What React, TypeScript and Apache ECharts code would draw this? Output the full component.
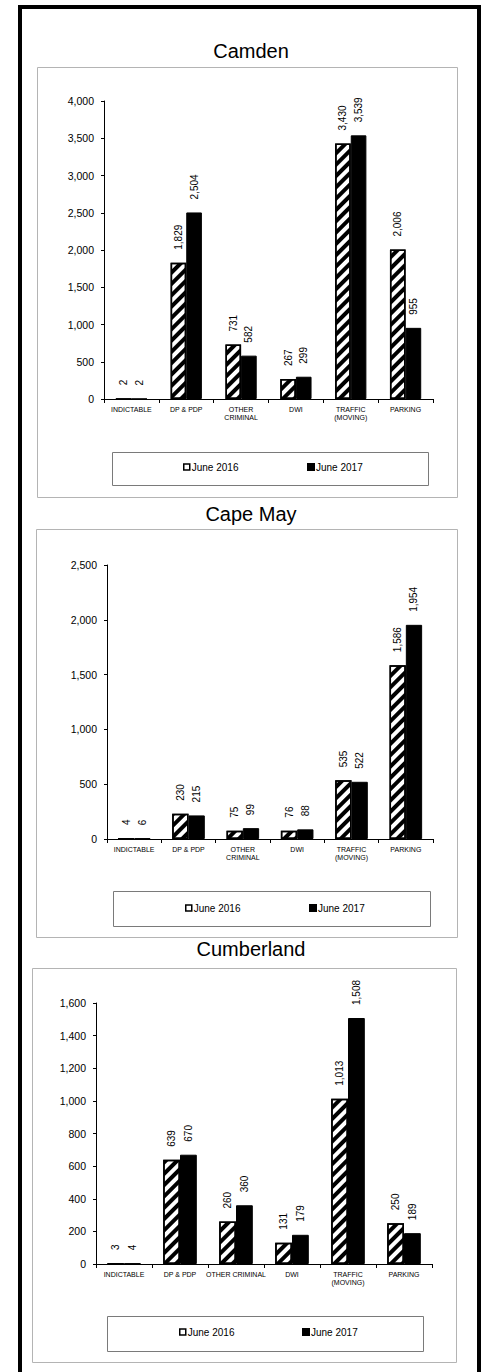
import React, { useEffect, useRef } from "react";
import * as echarts from "echarts";

const CATS_A = ["INDICTABLE", "DP & PDP", "OTHER\nCRIMINAL", "DWI", "TRAFFIC\n(MOVING)", "PARKING"];
const CATS_B = ["INDICTABLE", "DP & PDP", "OTHER CRIMINAL", "DWI", "TRAFFIC\n(MOVING)", "PARKING"];
const SERIES_NAMES = ["June 2016", "June 2017"];

const CAMDEN_2016 = [2, 1829, 731, 267, 3430, 2006];
const CAMDEN_2017 = [2, 2504, 582, 299, 3539, 955];
const CAPEMAY_2016 = [4, 230, 75, 76, 535, 1586];
const CAPEMAY_2017 = [6, 215, 99, 88, 522, 1954];
const CUMB_2016 = [3, 639, 260, 131, 1013, 250];
const CUMB_2017 = [4, 670, 360, 179, 1508, 189];

const TITLES = ["Camden", "Cape May", "Cumberland"];
const Y_MAX = [4000, 2500, 1600];
const Y_INTERVAL = [500, 500, 200];

const FONT = "'Liberation Sans', Arial, sans-serif";

const fmt = (v: number) => Number(v).toLocaleString("en-US");

export default function App() {
  const ref = useRef<HTMLDivElement>(null);
  useEffect(() => {
    if (!ref.current) return;
    const chart = echarts.init(ref.current, undefined, { renderer: "svg" });

    const grids = [
      { left: 104, top: 101, width: 329, height: 298 },
      { left: 107, top: 565, width: 326, height: 274 },
      { left: 96, top: 1003, width: 336, height: 261 },
    ];
    const cats = [CATS_A, CATS_A, CATS_B];
    const data = [
      [CAMDEN_2016, CAMDEN_2017],
      [CAPEMAY_2016, CAPEMAY_2017],
      [CUMB_2016, CUMB_2017],
    ];
    const titleTops = [41, 504, 939];
    const gaps = ["43%", "40%", "40%"];
    const legendPos = [
      { y: 468, x1: 183, x2: 307 },
      { y: 909, x1: 185, x2: 309 },
      { y: 1333, x1: 179, x2: 302 },
    ];

    const hatch = {
      symbol: "rect",
      symbolSize: 1,
      dashArrayX: [1, 0],
      dashArrayY: [4, 4],
      rotation: -Math.PI / 4,
      color: "#000",
      backgroundColor: "#fff",
    };

    const label = {
      show: true,
      position: "top",
      rotate: 90,
      align: "left",
      verticalAlign: "middle",
      distance: 13,
      fontSize: 10,
      fontFamily: FONT,
      color: "#000",
      formatter: (p: any) => fmt(p.value),
    };

    const series: any[] = [];
    data.forEach((pair, gi) => {
      series.push({
        type: "bar",
        name: SERIES_NAMES[0],
        xAxisIndex: gi,
        yAxisIndex: gi,
        data: pair[0],
        barGap: "0%",
        barCategoryGap: gaps[gi],
        itemStyle: { color: "#fff", borderColor: "#000", borderWidth: 1.5, decal: hatch },
        label,
      });
      series.push({
        type: "bar",
        name: SERIES_NAMES[1],
        xAxisIndex: gi,
        yAxisIndex: gi,
        data: pair[1],
        barGap: "0%",
        barCategoryGap: gaps[gi],
        itemStyle: { color: "#000", borderColor: "#000", borderWidth: 1 },
        label,
      });
    });

    const legends: any[] = [];
    legendPos.forEach((lp) => {
      legends.push({
        left: lp.x1,
        top: lp.y - 6,
        padding: 0,
        itemWidth: 6,
        itemHeight: 6,
        itemGap: 0,
        textStyle: { fontSize: 10, fontFamily: FONT, color: "#000", padding: [0, 0, 0, -3] },
        data: [
          {
            name: SERIES_NAMES[0],
            icon: "rect",
            itemStyle: { color: "#fff", borderColor: "#000", borderWidth: 1.5, decal: "none" },
          },
        ],
        selectedMode: false,
      });
      legends.push({
        left: lp.x2,
        top: lp.y - 6,
        padding: 0,
        itemWidth: 6,
        itemHeight: 6,
        itemGap: 0,
        textStyle: { fontSize: 10, fontFamily: FONT, color: "#000", padding: [0, 0, 0, -3] },
        data: [{ name: SERIES_NAMES[1], icon: "rect", itemStyle: { color: "#000" } }],
        selectedMode: false,
      });
    });

    const option: any = {
      animation: false,
      backgroundColor: "#fff",
      title: TITLES.map((t, i) => ({
        text: t,
        left: 251,
        top: titleTops[i],
        textAlign: "center",
        padding: 0,
        textStyle: { fontSize: 20, fontWeight: "normal", fontFamily: FONT, color: "#000" },
      })),
      legend: legends,
      grid: grids.map((g) => ({ ...g, containLabel: false })),
      xAxis: grids.map((_, i) => ({
        type: "category",
        gridIndex: i,
        data: cats[i],
        axisLine: { lineStyle: { color: "#000", width: 1 } },
        axisTick: { show: true, length: 4, lineStyle: { color: "#000" } },
        axisLabel: {
          interval: 0,
          fontSize: 7,
          lineHeight: 8,
          fontFamily: FONT,
          color: "#000",
          margin: 6,
        },
        splitLine: { show: false },
      })),
      yAxis: grids.map((_, i) => ({
        type: "value",
        gridIndex: i,
        min: 0,
        max: Y_MAX[i],
        interval: Y_INTERVAL[i],
        axisLine: { show: true, lineStyle: { color: "#000", width: 1 } },
        axisTick: { show: true, length: 3, lineStyle: { color: "#000" } },
        axisLabel: {
          fontSize: 10.5,
          fontFamily: FONT,
          color: "#000",
          margin: 10,
          formatter: (v: number) => fmt(v),
        },
        splitLine: { show: false },
      })),
      series,
      graphic: [
        {
          type: "rect",
          shape: { x: 20, y: 7, width: 459, height: 1400 },
          style: { fill: "none", stroke: "#000", lineWidth: 4 },
          silent: true,
        },
        {
          type: "rect",
          shape: { x: 37.5, y: 67.5, width: 420, height: 430 },
          style: { fill: "none", stroke: "#b4b4b4", lineWidth: 1 },
          silent: true,
        },
        {
          type: "rect",
          shape: { x: 36.5, y: 529.5, width: 421, height: 408 },
          style: { fill: "none", stroke: "#b4b4b4", lineWidth: 1 },
          silent: true,
        },
        {
          type: "rect",
          shape: { x: 32.5, y: 968.5, width: 424, height: 394 },
          style: { fill: "none", stroke: "#b4b4b4", lineWidth: 1 },
          silent: true,
        },
        {
          type: "rect",
          shape: { x: 112.5, y: 452.5, width: 316, height: 33 },
          style: { fill: "none", stroke: "#7a7a7a", lineWidth: 1 },
          silent: true,
        },
        {
          type: "rect",
          shape: { x: 113.5, y: 891.5, width: 317, height: 35 },
          style: { fill: "none", stroke: "#7a7a7a", lineWidth: 1 },
          silent: true,
        },
        {
          type: "rect",
          shape: { x: 107.5, y: 1316.5, width: 316, height: 35 },
          style: { fill: "none", stroke: "#7a7a7a", lineWidth: 1 },
          silent: true,
        },
      ],
    };
    chart.setOption(option);
    return () => chart.dispose();
  }, []);

  return (
    <div
      ref={ref}
      style={{ position: "absolute", left: 0, top: 0, width: 483, height: 1372, background: "#fff" }}
    />
  );
}
